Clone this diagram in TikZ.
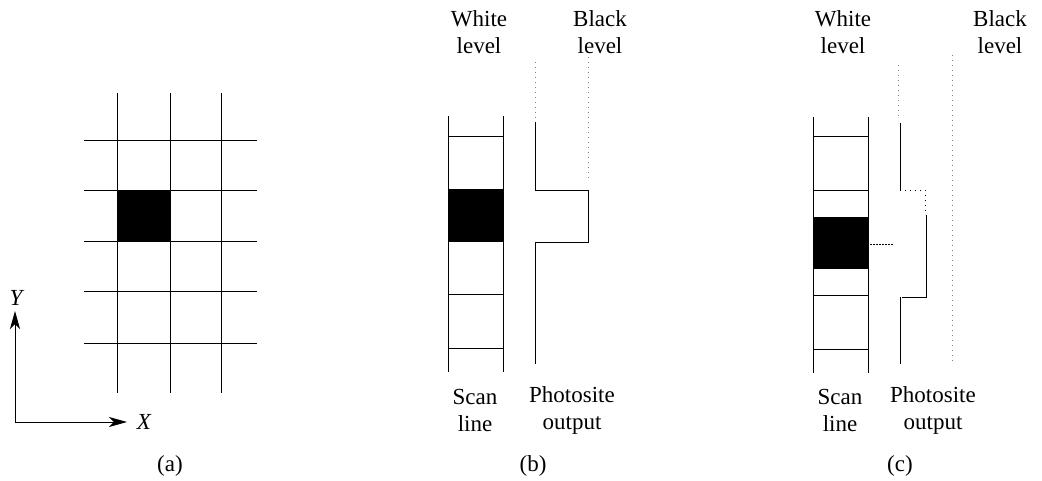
\documentclass[tikz,border=0pt]{standalone}
\usepackage{fontspec}
\setmainfont{Liberation Serif}
\usetikzlibrary{arrows.meta}
\begin{document}
\begin{tikzpicture}[x=1pt,y=-1pt,
  grid/.style={line width=1pt},
  levelline/.style={gray, line width=0.9pt, dash pattern=on 1pt off 4pt},
  sigline/.style={line width=0.9pt},
  lbl/.style={font=\fontsize{23}{27}\selectfont, align=center, inner sep=0pt},
  axis/.style={line width=0.9pt, -{Stealth[length=18pt,width=10pt,inset=5pt]}}]
\useasboundingbox (0,0) rectangle (1042,481);

% ---------- (a) pixel grid ----------
\fill (118,191) rectangle (170,242);
\foreach \x in {117,170,221} \draw[grid] (\x,93) -- (\x,393);
\foreach \y in {141,191,242,292,343} \draw[grid] (84,\y) -- (257,\y);
\coordinate (o) at (15,422);
\node[lbl, font=\fontsize{23}{27}\selectfont\itshape] (ylab) at (16,298) {Y};
\node[lbl, font=\fontsize{23}{27}\selectfont\itshape] (xlab) at (144,422) {X};
\draw[axis] (o) -- (15,311);
\draw[axis] (o) -- (127,422);
\node[lbl] (capa) at (170,466) {(a)};

% ---------- (b) sharp transition ----------
\fill (448,190) rectangle (503,242);
\draw[grid] (448,116) -- (448,372) (503,116) -- (503,372);
\foreach \y in {137,190,242,295,348} \draw[grid] (448,\y) -- (503,\y);
\draw[levelline] (535,62) -- (535,120);
\draw[levelline] (588,57) -- (588,178);
\draw[sigline] (535,122) -- (535,190) -- (588,190) -- (588,242) -- (535,242) -- (535,364);
\node[lbl] (wb) at (479,32) {White\\level};
\node[lbl] (bb) at (600,32) {Black\\level};
\node[lbl] (sb) at (475,410) {Scan\\line};
\node[lbl] (pb) at (572,410) {Photosite\\output};
\node[lbl] (capb) at (533,466) {(b)};

% ---------- (c) pixel straddling two photosites ----------
\fill (813,217) rectangle (868,269);
\draw[grid] (813,117) -- (813,373) (868,117) -- (868,373);
\foreach \y in {137,191,296,349} \draw[grid] (813,\y) -- (868,\y);
\draw[levelline] (898,65) -- (898,120);
\draw[levelline] (952,55) -- (952,365);
\draw[levelline, black] (900,190) -- (925,190) -- (925,215);
\draw[levelline, black, dash pattern=on 1.5pt off 1.5pt] (870,244) -- (893,244);
\draw[sigline] (900,123) -- (900,190);
\draw[sigline] (926,215) -- (926,297) -- (902,297);
\draw[sigline] (900,297) -- (900,364);
\node[lbl] (wc) at (843,32) {White\\level};
\node[lbl] (bc) at (1000,32) {Black\\level};
\node[lbl] (sc) at (840,410) {Scan\\line};
\node[lbl] (pc) at (933,410) {Photosite\\output};
\node[lbl] (capc) at (900,466) {(c)};
\end{tikzpicture}
\end{document}
